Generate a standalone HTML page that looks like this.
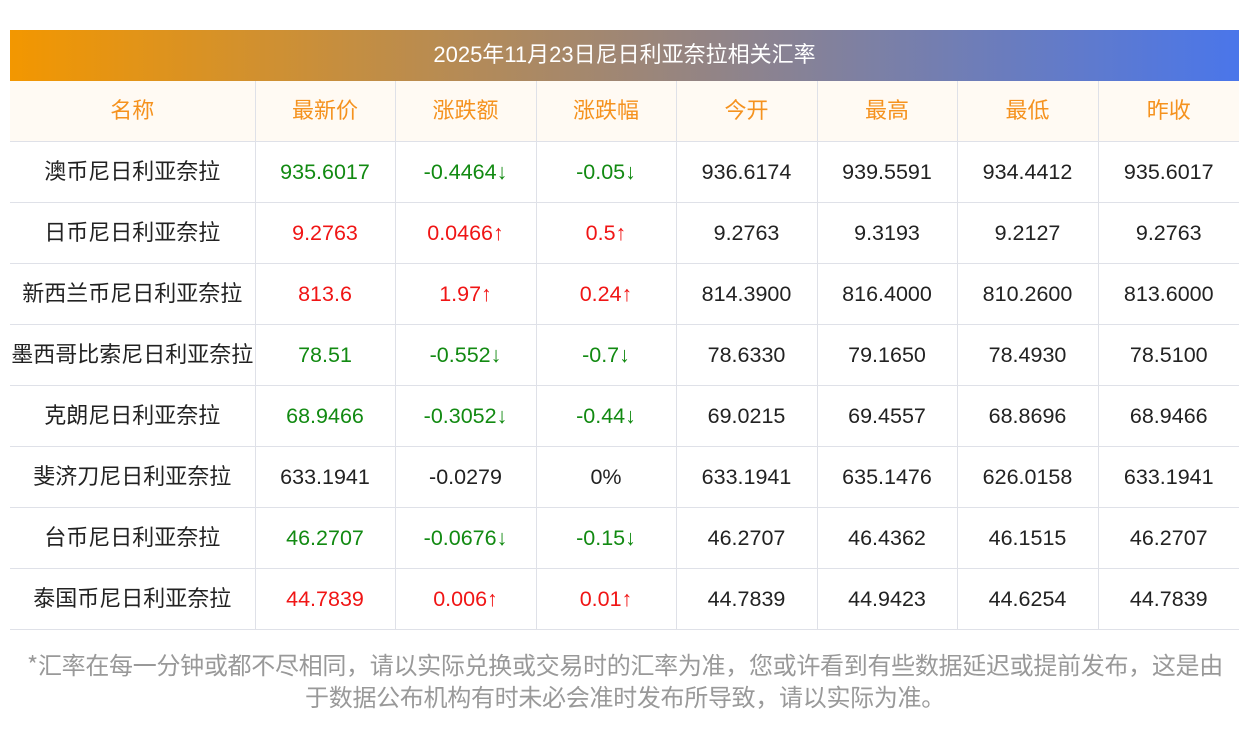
<!DOCTYPE html>
<html><head><meta charset="utf-8"><style>
body{margin:0;width:1250px;height:733px;background:#fff;font-family:"Liberation Sans","Noto Sans CJK SC",sans-serif;overflow:hidden;position:relative}
.title{position:absolute;left:10px;top:30px;width:1229px;height:51px;background:linear-gradient(90deg,#f39700,#4a76ea);color:#fff;font-size:22px;text-align:center;line-height:49px}
table{position:absolute;left:10px;top:81px;border-collapse:collapse;width:1229px;table-layout:fixed}
td{height:60px;border:1px solid #dfe1e8;text-align:center;font-size:21.5px;color:#222;padding:0;white-space:nowrap;line-height:24px}
td.n{font-family:"Noto Sans CJK SC",sans-serif;font-size:22px;line-height:24px;padding-bottom:4px;height:56px}
tr td:first-child{border-left:none}
tr td:last-child{border-right:none}
tr:first-child td{border-top:none;background:#fffaf3;color:#f5921e;font-family:"Noto Sans CJK SC",sans-serif;font-size:22px;padding-bottom:4px;height:56px}
.g{color:#128a12}.r{color:#f01515}
.note{position:absolute;left:0;top:648px;width:1250px;text-align:center;color:#999;font-size:24px;line-height:32px;font-family:"Noto Sans CJK SC",sans-serif;letter-spacing:-0.3px}
</style></head><body>
<div class="title">2025年11月23日尼日利亚奈拉相关汇率</div>
<table>
<colgroup><col style="width:245px"><col style="width:140px"><col style="width:141px"><col style="width:140px"><col style="width:141px"><col style="width:140px"><col style="width:141px"><col style="width:141px"></colgroup>
<tr><td>名称</td><td>最新价</td><td>涨跌额</td><td>涨跌幅</td><td>今开</td><td>最高</td><td>最低</td><td>昨收</td></tr>
<tr><td class="n">澳币尼日利亚奈拉</td><td class="g">935.6017</td><td class="g">-0.4464↓</td><td class="g">-0.05↓</td><td>936.6174</td><td>939.5591</td><td>934.4412</td><td>935.6017</td></tr>
<tr><td class="n">日币尼日利亚奈拉</td><td class="r">9.2763</td><td class="r">0.0466↑</td><td class="r">0.5↑</td><td>9.2763</td><td>9.3193</td><td>9.2127</td><td>9.2763</td></tr>
<tr><td class="n">新西兰币尼日利亚奈拉</td><td class="r">813.6</td><td class="r">1.97↑</td><td class="r">0.24↑</td><td>814.3900</td><td>816.4000</td><td>810.2600</td><td>813.6000</td></tr>
<tr><td class="n">墨西哥比索尼日利亚奈拉</td><td class="g">78.51</td><td class="g">-0.552↓</td><td class="g">-0.7↓</td><td>78.6330</td><td>79.1650</td><td>78.4930</td><td>78.5100</td></tr>
<tr><td class="n">克朗尼日利亚奈拉</td><td class="g">68.9466</td><td class="g">-0.3052↓</td><td class="g">-0.44↓</td><td>69.0215</td><td>69.4557</td><td>68.8696</td><td>68.9466</td></tr>
<tr><td class="n">斐济刀尼日利亚奈拉</td><td>633.1941</td><td>-0.0279</td><td>0%</td><td>633.1941</td><td>635.1476</td><td>626.0158</td><td>633.1941</td></tr>
<tr><td class="n">台币尼日利亚奈拉</td><td class="g">46.2707</td><td class="g">-0.0676↓</td><td class="g">-0.15↓</td><td>46.2707</td><td>46.4362</td><td>46.1515</td><td>46.2707</td></tr>
<tr><td class="n">泰国币尼日利亚奈拉</td><td class="r">44.7839</td><td class="r">0.006↑</td><td class="r">0.01↑</td><td>44.7839</td><td>44.9423</td><td>44.6254</td><td>44.7839</td></tr>
</table>
<div class="note">*汇率在每一分钟或都不尽相同，请以实际兑换或交易时的汇率为准，您或许看到有些数据延迟或提前发布，这是由<br>于数据公布机构有时未必会准时发布所导致，请以实际为准。</div>
</body></html>
